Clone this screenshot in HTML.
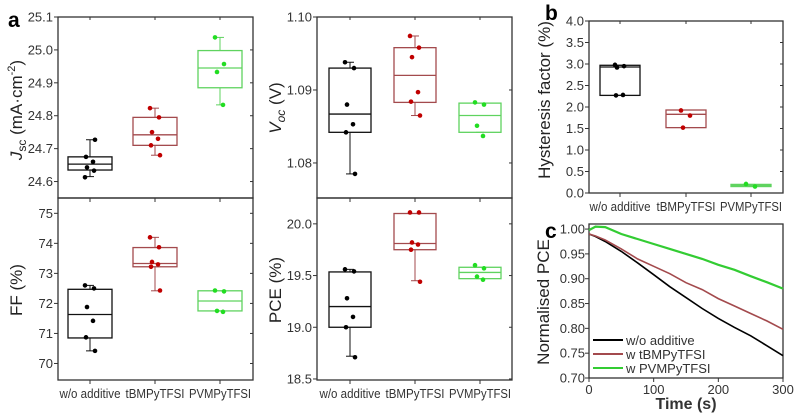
<!DOCTYPE html>
<html><head><meta charset="utf-8"><style>
body{margin:0;background:#fff}
svg{display:block;font-family:"Liberation Sans",sans-serif}
</style></head><body>
<svg id="fig" width="798" height="416" viewBox="0 0 798 416" xmlns="http://www.w3.org/2000/svg"></svg>
<script>
const categories=["w/o additive","tBMPyTFSI","PVMPyTFSI"];
// box stats: [q1, median, q3, whiskerLow, whiskerHigh]
const jscBoxes=[[24.635,24.653,24.675,24.615,24.727],[24.71,24.742,24.795,24.68,24.823],[24.885,24.945,24.998,24.833,25.038]];
const jscPoints=[[24.613,24.633,24.643,24.66,24.675,24.727],[24.823,24.795,24.75,24.73,24.71,24.68],[25.038,24.957,24.933,24.833]];
const vocBoxes=[[1.0842,1.0867,1.093,1.0785,1.0938],[1.0883,1.092,1.0958,1.0865,1.0974],[1.0842,1.0865,1.0882,1.0842,1.0882]];
const vocPoints=[[1.0938,1.093,1.088,1.0853,1.0842,1.0785],[1.0974,1.0958,1.0945,1.0897,1.0884,1.0865],[1.0883,1.088,1.0851,1.0837]];
const ffBoxes=[[70.85,71.63,72.47,70.42,72.6],[73.22,73.33,73.86,72.42,74.2],[71.75,72.08,72.42,71.75,72.42]];
const ffPoints=[[72.6,72.5,71.88,71.42,70.87,70.42],[74.2,73.87,73.38,73.3,73.22,72.43],[72.43,72.4,71.75,71.72]];
const pceBoxes=[[19.0,19.2,19.535,18.72,19.56],[19.75,19.81,20.1,19.45,20.1],[19.47,19.53,19.58,19.47,19.58]];
const pcePoints=[[19.56,19.54,19.28,19.1,19.0,18.71],[20.11,20.11,19.82,19.8,19.75,19.44],[19.6,19.57,19.49,19.46]];
const hystBoxes=[[2.27,2.93,2.97,2.27,2.97],[1.52,1.83,1.93,1.52,1.93],[0.15,0.17,0.2,0.15,0.2]];
const hystPoints=[[2.98,2.95,2.92,2.28,2.27],[1.92,1.8,1.52],[0.21,0.15]];
const timeVals=[0,10,25,50,75,100,125,150,175,200,225,250,275,300];
const pceNoAdd=[0.99,0.985,0.975,0.955,0.932,0.908,0.884,0.862,0.84,0.82,0.802,0.785,0.765,0.745];
const pceTBM=[0.99,0.986,0.978,0.96,0.94,0.925,0.91,0.892,0.878,0.86,0.845,0.83,0.815,0.798];
const pcePVM=[0.998,1.005,1.004,0.99,0.98,0.97,0.96,0.95,0.94,0.928,0.918,0.905,0.893,0.88];
const seriesNames=["w/o additive","w tBMPyTFSI","w PVMPyTFSI"];

const NS="http://www.w3.org/2000/svg";
const svg=document.getElementById('fig');
const boxCol=["#111","#a34a4d","#5fd35f"], ptCol=["#000","#c00000","#22dd22"];
function el(t,a,p){const e=document.createElementNS(NS,t);for(const k in a)e.setAttribute(k,a[k]);(p||svg).appendChild(e);return e;}
function txt(s,x,y,size,anchor,p,rot){const e=el('text',{x:x,y:y,'font-size':size,'text-anchor':anchor||'middle',fill:'#333'},p);if(rot)e.setAttribute('transform','rotate(-90 '+x+' '+y+')');e.textContent=s;return e;}

function boxPanel(name,x0,x1,y0,y1,ymin,ymax,ticks,fmt,boxes,points,catX,bw,showCats){
  const g=el('g',{});
  
  
  const sy=v=>y1-(v-ymin)/(ymax-ymin)*(y1-y0);
  el('rect',{x:x0,y:y0,width:x1-x0,height:y1-y0,fill:'none',stroke:'#333','stroke-width':1.3},g);
  ticks.forEach(t=>{const y=sy(t);
    el('line',{x1:x0-4,x2:x0,y1:y,y2:y,stroke:'#333'},g);
    el('line',{x1:x1-3,x2:x1,y1:y,y2:y,stroke:'#333'},g);
    const l=txt(t.toFixed(fmt),x0-5,y+4.5,13,'end',g);
    });
  catX.forEach((cx,i)=>{
    el('line',{x1:cx,x2:cx,y1:y1,y2:y1+4,stroke:'#333'},g);
    el('line',{x1:cx,x2:cx,y1:y0,y2:y0+3,stroke:'#333'},g);
    const b=boxes[i];const bg=el('g',{},g);
    
    
    el('line',{x1:cx,x2:cx,y1:sy(b[3]),y2:sy(b[0]),stroke:boxCol[i]},bg);
    el('line',{x1:cx,x2:cx,y1:sy(b[2]),y2:sy(b[4]),stroke:boxCol[i]},bg);
    el('line',{x1:cx-4,x2:cx+4,y1:sy(b[3]),y2:sy(b[3]),stroke:boxCol[i]},bg);
    el('line',{x1:cx-4,x2:cx+4,y1:sy(b[4]),y2:sy(b[4]),stroke:boxCol[i]},bg);
    el('rect',{x:cx-bw/2,y:sy(b[2]),width:bw,height:sy(b[0])-sy(b[2]),fill:'none',stroke:boxCol[i],'stroke-width':1.3},bg);
    el('line',{x1:cx-bw/2,x2:cx+bw/2,y1:sy(b[1]),y2:sy(b[1]),stroke:boxCol[i],'stroke-width':1.3},bg);
    points[i].forEach((v,j)=>{const p=el('circle',{cx:cx+(j%2?4:-4)+(j%3-1),cy:sy(v),r:2.3,fill:ptCol[i]},bg);
      });
    if(showCats){const l=txt(categories[i],cx,y1+18,13,'middle',g);
      l.setAttribute('textLength',[61,59,62][i]);l.setAttribute('lengthAdjust','spacingAndGlyphs');
      }
  });
  return g;
}
const cL=[90,155,220], cR=[350,415,480], cB=[620,686,751];
boxPanel('jsc-panel',58,253,17,198,24.55,25.1,[24.6,24.7,24.8,24.9,25.0,25.1],1,jscBoxes,jscPoints,cL,44,false);
boxPanel('voc-panel',317,512,17,198,1.0752,1.10,[1.08,1.09,1.10],2,vocBoxes,vocPoints,cR,42,false);
boxPanel('ff-panel',58,253,198,380,69.45,75.51,[70,71,72,73,74,75],0,ffBoxes,ffPoints,cL,44,true);
boxPanel('pce-panel',317,512,198,380,18.49,20.25,[18.5,19.0,19.5,20.0],1,pceBoxes,pcePoints,cR,42,true);
boxPanel('hysteresis-panel',589,783,21,193,0,4.0,[0,0.5,1,1.5,2,2.5,3,3.5,4],1,hystBoxes,hystPoints,cB,40,true);

// panel c line chart
(function(){
  const g=el('g',{});
  
  
  const x0=589,x1=783,y0=224,y1=378,ymin=0.70,ymax=1.0102;
  const sx=t=>x0+t/300*(x1-x0), sy=v=>y1-(v-ymin)/(ymax-ymin)*(y1-y0);
  el('rect',{x:x0,y:y0,width:x1-x0,height:y1-y0,fill:'none',stroke:'#333','stroke-width':1.3},g);
  [0.70,0.75,0.80,0.85,0.90,0.95,1.00].forEach(t=>{const y=sy(t);
    el('line',{x1:x0-4,x2:x0,y1:y,y2:y,stroke:'#333'},g);
    const l=txt(t.toFixed(2),x0-4,y+4.5,13,'end',g);
    });
  [0,100,200,300].forEach(t=>{const x=sx(t);
    el('line',{x1:x,x2:x,y1:y1,y2:y1+4,stroke:'#333'},g);
    const l=txt(String(t),x,y1+16,13,'middle',g);
    });
  const lc=["#000","#a34a4d","#33cc33"];
  [pceNoAdd,pceTBM,pcePVM].forEach((s,i)=>{
    const d=s.map((v,j)=>(j?'L':'M')+sx(timeVals[j]).toFixed(1)+' '+sy(v).toFixed(1)).join(' ');
    const p=el('path',{d:d,fill:'none',stroke:lc[i],'stroke-width':i==2?2.2:1.6},g);
    
    
    const ly=[340,354,368][i];
    const lg=el('g',{},g);
    
    
    el('line',{x1:593,x2:623,y1:ly,y2:ly,stroke:lc[i],'stroke-width':2},lg);
    txt(seriesNames[i],626,ly+5,13,'start',lg);
  });
  const t=txt('Time (s)',686,409,16,'middle',g);
  t.setAttribute('font-weight','bold');
  
})();

// axis titles and panel letters
function title(s,x,y,name){const t=txt(s,x,y,17,'middle',svg,true);t.setAttribute('fill','#222');
  return t;}
const j=title('',22,110,'jsc-axis-title');
j.innerHTML='<tspan font-style="italic">J</tspan><tspan font-size="12" dy="4">sc</tspan><tspan dy="-4"> (mA·cm</tspan><tspan font-size="11" dy="-7">-2</tspan><tspan dy="7">)</tspan>';
const v=title('',281,108,'voc-axis-title');
v.innerHTML='<tspan font-style="italic">V</tspan><tspan font-size="12" dy="4" font-style="italic">oc</tspan><tspan dy="-4"> (V)</tspan>';
title('FF (%)',22,290,'ff-axis-title');
title('PCE (%)',281,290,'pce-axis-title');
title('Hysteresis factor (%)',550,100,'hysteresis-axis-title');
title('Normalised PCE',549,302,'normalised-pce-axis-title');
[['a',8,27,'panel-label-a'],['b',545,20,'panel-label-b'],['c',545,238,'panel-label-c']].forEach(a=>{
  const t=txt(a[0],a[1],a[2],21,'start');t.setAttribute('font-weight','bold');t.setAttribute('fill','#000');
  });
</script>
</body></html>
